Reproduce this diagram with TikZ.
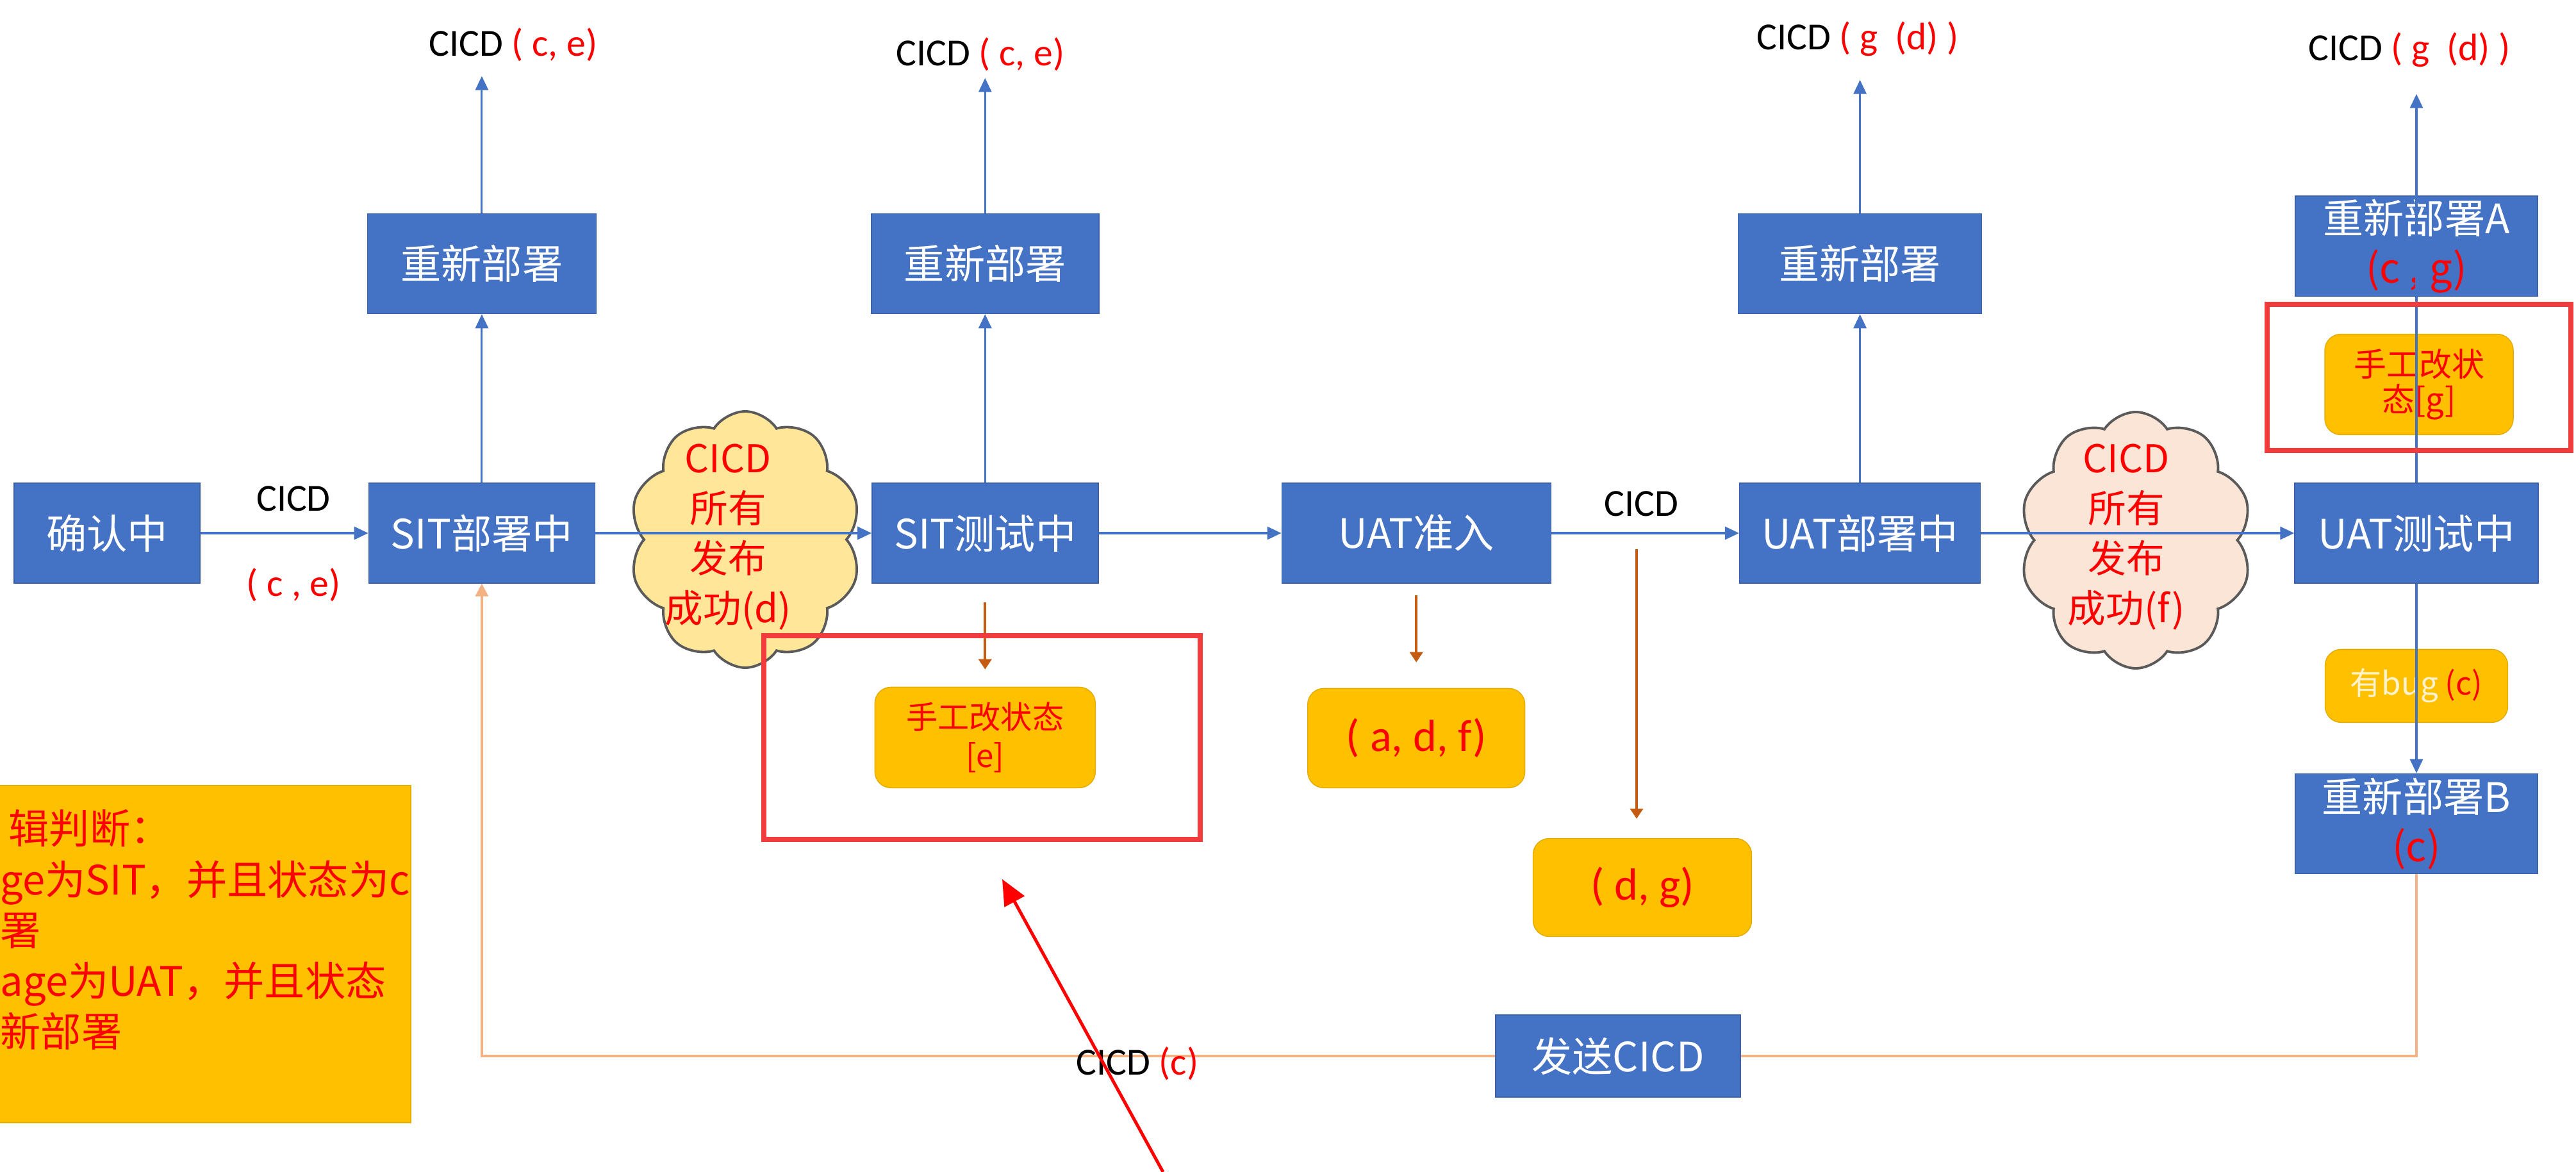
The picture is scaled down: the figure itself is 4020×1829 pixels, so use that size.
\documentclass[tikz,border=0pt]{standalone}
\usepackage{fontspec}
\setmainfont{Carlito}
\newfontfamily\cjk{Noto Sans CJK SC}
\usepackage{xcolor}
\usetikzlibrary{positioning, shapes.symbols, arrows.meta}

\definecolor{boxblue}{HTML}{4472C4}
\definecolor{boxedge}{HTML}{3A62AC}
\definecolor{noteorange}{HTML}{FFC000}
\definecolor{noteedge}{HTML}{E3AB00}
\definecolor{hintbrown}{HTML}{C55A11}
\definecolor{backorange}{HTML}{F4B183}
\definecolor{framered}{HTML}{F03C3C}
\definecolor{cloudyellow}{HTML}{FFE699}
\definecolor{cloudpeach}{HTML}{FBE5D6}
\definecolor{cloudedge}{HTML}{5A5A5A}
\definecolor{bugtext}{HTML}{FFF2CC}

\tikzset{
  stagebox/.style={rectangle, draw=boxedge, fill=boxblue, text=white, font=\cjk\fontsize{18}{22}\selectfont, align=center, minimum height=15.6mm, inner sep=0.5mm},
  notebox/.style={rectangle, rounded corners=2.5mm, draw=noteedge, fill=noteorange, text=red, align=center, inner sep=0.5mm},
  cloudbox/.style={cloud, cloud puffs=10, cloud puff arc=115, draw=cloudedge, line width=1.1pt, inner sep=0, aspect=0.9},
  flowline/.style={draw=boxblue, line width=0.9pt, -{Triangle[length=2.2mm, width=2mm]}},
  hintline/.style={draw=hintbrown, line width=1.2pt, -{Triangle[length=1.6mm, width=2mm]}},
  backline/.style={draw=backorange, line width=1pt},
  redframe/.style={draw=framered, line width=2.4pt},
  pointer/.style={draw=red, line width=1.4pt, -{Triangle[length=4mm, width=3.5mm]}},
  cicdtext/.style={font=\fontsize{17}{20}\selectfont, inner sep=0},
}

\begin{document}
\begin{tikzpicture}[x=0.1mm, y=-0.1mm]
    \useasboundingbox (0,0) rectangle (4020,1829);

    % Legend
    \draw[fill=noteorange, draw=noteedge] (-10,1226) rectangle (641,1752);
    \node (legendtext) [anchor=north west, inner sep=0, align=left, text=red, font=\cjk\fontsize{18}{22.5}\selectfont] at (0,1263) {\hspace*{1.3mm}辑判断：\\ge为SIT，并且状态为c\\署\\age为UAT，并且状态\\新部署};

    % Clouds
    \node (cloudsit) [cloudbox, fill=cloudyellow, minimum width=36.2mm, minimum height=40mm] at (1163,842) {};
    \node (clouduat) [cloudbox, fill=cloudpeach, minimum width=36.3mm, minimum height=40mm] at (3333,843) {};

    % Main flow
    \node (confirm) [stagebox, minimum width=29mm] at (167,832) {确认中};
    \node (sitdeploy) [stagebox, minimum width=35.3mm, right=26.2mm of confirm] {SIT部署中};
    \node (sittest) [stagebox, minimum width=35.3mm, right=43.1mm of sitdeploy] {SIT测试中};
    \node (uatentry) [stagebox, minimum width=42mm, right=28.5mm of sittest] {UAT准入};
    \node (uatdeploy) [stagebox, minimum width=37.6mm, right=29.3mm of uatentry] {UAT部署中};
    \node (uattest) [stagebox, minimum width=38mm, right=48.9mm of uatdeploy] {UAT测试中};

    % Redeploy
    \node (redeploy1) [stagebox, minimum width=35.7mm, above=26.3mm of sitdeploy] {重新部署};
    \node (redeploy2) [stagebox, minimum width=35.5mm, above=26.3mm of sittest] {重新部署};
    \node (redeploy3) [stagebox, minimum width=38mm, above=26.3mm of uatdeploy] {重新部署};
    \node (redeployA) [stagebox, minimum width=37.8mm, above=29mm of uattest] {重新部署A\\{\color{red}(c , g)}};
    \node (redeployB) [stagebox, minimum width=37.8mm, below=29.6mm of uattest] {重新部署B\\{\color{red}(c)}};
    \node (sendcicd) [stagebox, minimum width=38.2mm, minimum height=12.8mm] at (2525,1648) {发送CICD};

    % Notes
    \node (manuale) [notebox, minimum width=34.4mm, minimum height=15.7mm, below=16.1mm of sittest, font=\cjk\fontsize{14}{17}\selectfont] {手工改状态\\{}[e]};
    \node (adf) [notebox, minimum width=33.9mm, minimum height=15.5mm, below=16.3mm of uatentry, font=\fontsize{20}{24}\selectfont] {( a, d, f)};
    \node (dg) [notebox, minimum width=34.1mm, minimum height=15.3mm, font=\fontsize{20}{24}\selectfont] at (2563,1385) {( d, g)};
    \node (bug) [notebox, minimum width=28.5mm, minimum height=11.4mm, below=10.2mm of uattest, font=\cjk\fontsize{14}{17}\selectfont] {{\color{bugtext}有bug} (c)};
    \node (manualg) [notebox, minimum width=29.4mm, minimum height=15.7mm, font=\cjk\fontsize{14.5}{15.5}\selectfont] at (3775,600) {手工改状\\态[g]};

    % Labels
    \node (cicdtop1) [cicdtext] at (801,70) {CICD {\color{red}( c, e)}};
    \node (cicdtop2) [cicdtext] at (1530,85) {CICD {\color{red}( c, e)}};
    \node (cicdtop3) [cicdtext] at (2899,61) {CICD {\color{red}( g\ \ (d) )}};
    \node (cicdtop4) [cicdtext] at (3760,78) {CICD {\color{red}( g\ \ (d) )}};
    \node (cicdfirst) [cicdtext] at (458,778) {CICD};
    \node (cicdce) [cicdtext, text=red] at (458,913) {( c , e)};
    \node (cicdsecond) [cicdtext] at (2561,786) {CICD};
    \coordinate (cicdsplit) at (2554,857);

    % Flow
    \draw[flowline] (confirm) -- (sitdeploy);
    \draw[flowline] (sitdeploy) -- (sittest);
    \draw[flowline] (sittest) -- (uatentry);
    \draw[flowline] (uatentry) -- (uatdeploy);
    \draw[flowline] (uatdeploy) -- (uattest);
    \draw[flowline] (sitdeploy) -- (redeploy1);
    \draw[flowline] (sittest) -- (redeploy2);
    \draw[flowline] (uatdeploy) -- (redeploy3);
    \draw[flowline, shorten >=2.2mm] (redeploy1.north) -- (redeploy1.north |- cicdtop1.south);
    \draw[flowline, shorten >=1mm] (redeploy2.north) -- (redeploy2.north |- cicdtop2.south);
    \draw[flowline, shorten >=3.6mm] (redeploy3.north) -- (redeploy3.north |- cicdtop3.south);
    \draw[flowline, shorten >=4.1mm] (uattest.north) -- (uattest.north |- cicdtop4.south);
    \draw[flowline] (uattest) -- (redeployB);

    % Hints
    \draw[hintline, shorten <=2.9mm, shorten >=2.7mm] (sittest.south) -- (sittest.south |- manuale.north);
    \draw[hintline, shorten <=1.8mm, shorten >=4mm] (uatentry.south) -- (uatentry.south |- adf.north);
    \draw[hintline, shorten >=3mm] (cicdsplit) -- (cicdsplit |- dg.north);

    % Back to SIT
    \draw[backline] (redeployB.south) |- (sendcicd.east);
    \draw[backline, -{Triangle[length=2mm, width=2mm]}] (sendcicd.west) -| (sitdeploy.south);
    \node (cicdback) [cicdtext] at (1775,1660) {CICD {\color{red}(c)}};

    % Cloud texts
    \node (cloudsittext) [text=red, align=center, inner sep=0, font=\cjk\fontsize{17}{22.2}\selectfont] at (1136,838) {CICD\\所有\\发布\\成功(d)};
    \node (clouduattext) [text=red, align=center, inner sep=0, font=\cjk\fontsize{17}{22.2}\selectfont] at (3318,838) {CICD\\所有\\发布\\成功(f)};

    % Marks
    \draw[redframe] (1192,992) rectangle (1873,1310);
    \draw[redframe] (3538,475) rectangle (4012,703);
    \coordinate (pointertail) at (1815,1829);
    \coordinate (pointertip) at (1564,1372);
    \draw[pointer] (pointertail) -- (pointertip);
\end{tikzpicture}
\end{document}
